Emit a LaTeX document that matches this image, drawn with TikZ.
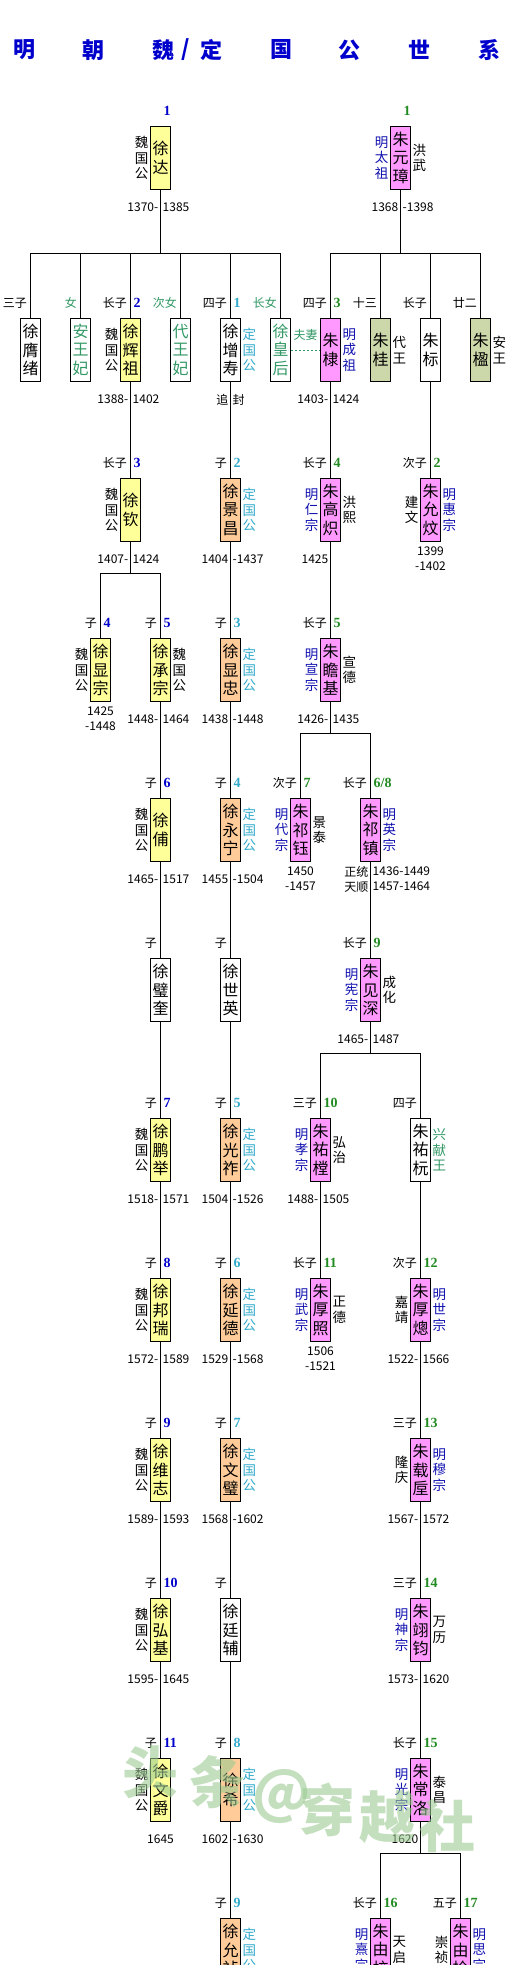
\documentclass[tikz,border=0pt]{standalone}
\usepackage{fontspec}
\setmainfont{Noto Sans CJK SC}
\newfontfamily\numfont{Liberation Serif}
\usetikzlibrary{positioning}
\definecolor{weiyellow}{HTML}{FFFF99}
\definecolor{dingpeach}{HTML}{FFCC99}
\definecolor{emppink}{HTML}{FF99FF}
\definecolor{wangkhaki}{HTML}{CCD8AA}
\definecolor{weiblue}{HTML}{0000CC}
\definecolor{mingblue}{HTML}{1010B0}
\definecolor{dingcyan}{HTML}{33AACC}
\definecolor{dinggreen}{HTML}{339966}
\definecolor{numgreen}{HTML}{228B22}
\definecolor{markgreen}{HTML}{9CCB92}
\tikzset{
  person/.style={draw, line width=0.8pt, anchor=north, minimum width=20pt, minimum height=63pt,
    inner sep=0pt, align=center, font=\fontsize{16}{18.5}\selectfont},
  wei/.style={person, fill=weiyellow},
  ding/.style={person, fill=dingpeach},
  emp/.style={person, fill=emppink},
  wang/.style={person, fill=wangkhaki},
  plainbox/.style={person, fill=white},
  side/.style={inner sep=1.5pt, align=center, font=\fontsize{13.5}{15.5}\selectfont},
  rel/.style={inner sep=0pt, font=\fontsize{12}{12}\selectfont},
  num/.style={inner sep=0pt, font=\numfont\bfseries\fontsize{14}{14}\selectfont},
  yr/.style={inner sep=0pt, align=center, font=\fontsize{12}{15}\selectfont},
  link/.style={line width=0.8pt},
  titlech/.style={inner sep=0pt, weiblue, font=\bfseries\fontsize{22}{22}\selectfont},
  wmark/.style={inner sep=0pt, markgreen, opacity=0.6, font=\bfseries\fontsize{56}{56}\selectfont},
}
\newcommand{\lside}[3][]{\node[side,left,#1] (#2-w) at (#2.west) {#3};}
\newcommand{\rside}[3][]{\node[side,right,#1] (#2-e) at (#2.east) {#3};}
\newcommand{\kin}[3][]{\node[rel,above left=9pt and 3.5pt of #2.north,#1] (#2-k) {#3};}
\newcommand{\gen}[3][]{\node[num,above right=10pt and 3pt of #2.north,#1] (#2-g) {#3};}
\newcommand{\yrs}[3]{\node[yr,below left=12.5pt and 2pt of #1.south] (#1-a) {#2};
  \node[yr,below right=12.5pt and 2pt of #1.south] (#1-b) {#3};}
\newcommand{\yrc}[3][4.5pt]{\node[yr,below=#1 of #2.south] (#2-c) {#3};}
\begin{document}
\begin{tikzpicture}[x=1pt,y=-1pt]
\useasboundingbox[fill=white] (0,0) rectangle (511,1965);
% title
\foreach \x/\c in {24/明,93/朝,163/魏,211/定,281/国,349/公,419/世,489/系}
  \node[titlech] (t\x) at (\x,50) {\c};
\node[titlech] (tslash) at (186,50) {/};

% generation 1
\node[wei] (xda) at (160.5,126) {徐\\达};
\node[emp] (zyz) at (400.5,126) {朱\\元\\璋};
\lside{xda}{魏\\国\\公}
\lside[mingblue]{zyz}{明\\太\\祖}
\rside{zyz}{洪\\武}
\gen[weiblue]{xda}{1}
\gen[numgreen]{zyz}{1}
\yrs{xda}{1370-}{1385}
\yrs{zyz}{1368}{-1398}

% generation 2
\node[plainbox] (xyx) at (30.5,318) {徐\\膺\\绪};
\node[plainbox,text=dinggreen] (awf) at (80.5,318) {安\\王\\妃};
\node[wei] (xhz) at (130.5,318) {徐\\辉\\祖};
\node[plainbox,text=dinggreen] (dwf) at (180.5,318) {代\\王\\妃};
\node[plainbox] (xzs) at (230.5,318) {徐\\增\\寿};
\node[plainbox,text=dinggreen] (xhh) at (280.5,318) {徐\\皇\\后};
\node[emp] (zd) at (330.5,318) {朱\\棣};
\node[wang] (zg) at (380.5,318) {朱\\桂};
\node[plainbox] (zb) at (430.5,318) {朱\\标};
\node[wang] (zy) at (480.5,318) {朱\\楹};
\lside{xhz}{魏\\国\\公}
\rside[dingcyan]{xzs}{定\\国\\公}
\rside[mingblue]{zd}{明\\成\\祖}
\rside{zg}{代\\王}
\rside{zy}{安\\王}
\kin{xyx}{三子}
\kin[dinggreen]{awf}{女}
\kin{xhz}{长子} \gen[weiblue]{xhz}{2}
\kin[dinggreen]{dwf}{次女}
\kin{xzs}{四子} \gen[dingcyan]{xzs}{1}
\kin[dinggreen]{xhh}{长女}
\kin{zd}{四子} \gen[numgreen]{zd}{3}
\kin{zg}{十三}
\kin{zb}{长子}
\kin{zy}{廿二}
\yrs{xhz}{1388-}{1402}
\yrs{xzs}{追}{封}
\yrs{zd}{1403-}{1424}
\draw[dinggreen,line width=0.8pt,dash pattern=on 2.5pt off 1.5pt] (xhh.east) --
  node[rel,dinggreen,above=9pt] (fuqi) {夫妻} (zd.west);

% generation 3
\node[wei] (xq) at (130.5,478) {徐\\钦};
\node[ding] (xjc) at (230.5,478) {徐\\景\\昌};
\node[emp] (zgc) at (330.5,478) {朱\\高\\炽};
\node[emp] (zyw) at (430.5,478) {朱\\允\\炆};
\lside{xq}{魏\\国\\公}
\rside[dingcyan]{xjc}{定\\国\\公}
\lside[mingblue]{zgc}{明\\仁\\宗} \rside{zgc}{洪\\熙}
\lside{zyw}{建\\文} \rside[mingblue]{zyw}{明\\惠\\宗}
\kin{xq}{长子} \gen[weiblue]{xq}{3}
\kin{xjc}{子} \gen[dingcyan]{xjc}{2}
\kin{zgc}{长子} \gen[numgreen]{zgc}{4}
\kin{zyw}{次子} \gen[numgreen]{zyw}{2}
\yrs{xq}{1407-}{1424}
\yrs{xjc}{1404}{-1437}
\yrs{zgc}{1425}{}
\yrc{zyw}{1399\\-1402}

% generation 4
\node[wei] (xxz) at (100.5,638) {徐\\显\\宗};
\node[wei] (xcz) at (160.5,638) {徐\\承\\宗};
\node[ding] (xxzh) at (230.5,638) {徐\\显\\忠};
\node[emp] (zzj) at (330.5,638) {朱\\瞻\\基};
\lside{xxz}{魏\\国\\公}
\rside{xcz}{魏\\国\\公}
\rside[dingcyan]{xxzh}{定\\国\\公}
\lside[mingblue]{zzj}{明\\宣\\宗} \rside{zzj}{宣\\德}
\kin{xxz}{子} \gen[weiblue]{xxz}{4}
\kin{xcz}{子} \gen[weiblue]{xcz}{5}
\kin{xxzh}{子} \gen[dingcyan]{xxzh}{3}
\kin{zzj}{长子} \gen[numgreen]{zzj}{5}
\yrc{xxz}{1425\\-1448}
\yrs{xcz}{1448-}{1464}
\yrs{xxzh}{1438}{-1448}
\yrs{zzj}{1426-}{1435}

% generation 5
\node[wei] (xf) at (160.5,798) {徐\\俌};
\node[ding] (xyn) at (230.5,798) {徐\\永\\宁};
\node[emp] (zqy) at (300.5,798) {朱\\祁\\钰};
\node[emp] (zqz) at (370.5,798) {朱\\祁\\镇};
\lside{xf}{魏\\国\\公}
\rside[dingcyan]{xyn}{定\\国\\公}
\lside[mingblue]{zqy}{明\\代\\宗} \rside{zqy}{景\\泰}
\rside[mingblue]{zqz}{明\\英\\宗}
\kin{xf}{子} \gen[weiblue]{xf}{6}
\kin{xyn}{子} \gen[dingcyan]{xyn}{4}
\kin{zqy}{次子} \gen[numgreen]{zqy}{7}
\kin{zqz}{长子} \gen[numgreen]{zqz}{6/8}
\yrs{xf}{1465-}{1517}
\yrs{xyn}{1455}{-1504}
\yrc{zqy}{1450\\-1457}
\node[yr,align=right,below left=4pt and 2pt of zqz.south] (zqz-a) {正统\\天顺};
\node[yr,align=left,below right=4.5pt and 2pt of zqz.south] (zqz-b) {1436-1449\\1457-1464};

% generation 6
\node[plainbox] (xbk) at (160.5,958) {徐\\璧\\奎};
\node[plainbox] (xsy) at (230.5,958) {徐\\世\\英};
\node[emp] (zjs) at (370.5,958) {朱\\见\\深};
\lside[mingblue]{zjs}{明\\宪\\宗} \rside{zjs}{成\\化}
\kin{xbk}{子}
\kin{xsy}{子}
\kin{zjs}{长子} \gen[numgreen]{zjs}{9}
\yrs{zjs}{1465-}{1487}

% generation 7
\node[wei] (xpj) at (160.5,1118) {徐\\鹏\\举};
\node[ding] (xgz) at (230.5,1118) {徐\\光\\祚};
\node[emp] (zyt) at (320.5,1118) {朱\\祐\\樘};
\node[plainbox] (zyh) at (420.5,1118) {朱\\祐\\杬};
\lside{xpj}{魏\\国\\公}
\rside[dingcyan]{xgz}{定\\国\\公}
\lside[mingblue]{zyt}{明\\孝\\宗} \rside{zyt}{弘\\治}
\rside[dinggreen]{zyh}{兴\\献\\王}
\kin{xpj}{子} \gen[weiblue]{xpj}{7}
\kin{xgz}{子} \gen[dingcyan]{xgz}{5}
\kin{zyt}{三子} \gen[numgreen]{zyt}{10}
\kin{zyh}{四子}
\yrs{xpj}{1518-}{1571}
\yrs{xgz}{1504}{-1526}
\yrs{zyt}{1488-}{1505}

% generation 8
\node[wei] (xbr) at (160.5,1278) {徐\\邦\\瑞};
\node[ding] (xyd) at (230.5,1278) {徐\\延\\德};
\node[emp] (zhz) at (320.5,1278) {朱\\厚\\照};
\node[emp] (zhc) at (420.5,1278) {朱\\厚\\熜};
\lside{xbr}{魏\\国\\公}
\rside[dingcyan]{xyd}{定\\国\\公}
\lside[mingblue]{zhz}{明\\武\\宗} \rside{zhz}{正\\德}
\lside{zhc}{嘉\\靖} \rside[mingblue]{zhc}{明\\世\\宗}
\kin{xbr}{子} \gen[weiblue]{xbr}{8}
\kin{xyd}{子} \gen[dingcyan]{xyd}{6}
\kin{zhz}{长子} \gen[numgreen]{zhz}{11}
\kin{zhc}{次子} \gen[numgreen]{zhc}{12}
\yrs{xbr}{1572-}{1589}
\yrs{xyd}{1529}{-1568}
\yrc{zhz}{1506\\-1521}
\yrs{zhc}{1522-}{1566}

% generation 9
\node[wei] (xwz) at (160.5,1438) {徐\\维\\志};
\node[ding] (xwb) at (230.5,1438) {徐\\文\\璧};
\node[emp] (zzh) at (420.5,1438) {朱\\载\\垕};
\lside{xwz}{魏\\国\\公}
\rside[dingcyan]{xwb}{定\\国\\公}
\lside{zzh}{隆\\庆} \rside[mingblue]{zzh}{明\\穆\\宗}
\kin{xwz}{子} \gen[weiblue]{xwz}{9}
\kin{xwb}{子} \gen[dingcyan]{xwb}{7}
\kin{zzh}{三子} \gen[numgreen]{zzh}{13}
\yrs{xwz}{1589-}{1593}
\yrs{xwb}{1568}{-1602}
\yrs{zzh}{1567-}{1572}

% generation 10
\node[wei] (xhj) at (160.5,1598) {徐\\弘\\基};
\node[plainbox] (xtf) at (230.5,1598) {徐\\廷\\辅};
\node[emp] (zyj) at (420.5,1598) {朱\\翊\\钧};
\lside{xhj}{魏\\国\\公}
\lside[mingblue]{zyj}{明\\神\\宗} \rside{zyj}{万\\历}
\kin{xhj}{子} \gen[weiblue]{xhj}{10}
\kin{xtf}{子}
\kin{zyj}{三子} \gen[numgreen]{zyj}{14}
\yrs{xhj}{1595-}{1645}
\yrs{zyj}{1573-}{1620}

% generation 11
\node[wei] (xwj) at (160.5,1758) {徐\\文\\爵};
\node[ding] (xx) at (230.5,1758) {徐\\希};
\node[emp] (zcl) at (420.5,1758) {朱\\常\\洛};
\lside{xwj}{魏\\国\\公}
\rside[dingcyan]{xx}{定\\国\\公}
\lside[mingblue]{zcl}{明\\光\\宗} \rside{zcl}{泰\\昌}
\kin{xwj}{子} \gen[weiblue]{xwj}{11}
\kin{xx}{子} \gen[dingcyan]{xx}{8}
\kin{zcl}{长子} \gen[numgreen]{zcl}{15}
\yrc[12.5pt]{xwj}{1645}
\yrs{xx}{1602}{-1630}
\yrs{zcl}{1620}{}

% generation 12
\node[ding] (xyz) at (230.5,1918) {徐\\允\\祯};
\node[emp] (zyx) at (380.5,1918) {朱\\由\\校};
\node[emp] (zyj2) at (460.5,1918) {朱\\由\\检};
\rside[dingcyan]{xyz}{定\\国\\公}
\lside[mingblue]{zyx}{明\\熹\\宗} \rside{zyx}{天\\启}
\lside{zyj2}{崇\\祯} \rside[mingblue]{zyj2}{明\\思\\宗}
\kin{xyz}{子} \gen[dingcyan]{xyz}{9}
\kin{zyx}{长子} \gen[numgreen]{zyx}{16}
\kin{zyj2}{五子} \gen[numgreen]{zyj2}{17}

% lines of descent
\foreach \c in {xyx,awf,xhz,dwf,xzs,xhh} \draw[link] (xda.south) -- ++(0,64) -| (\c.north);
\foreach \c in {zd,zg,zb,zy} \draw[link] (zyz.south) -- ++(0,64) -| (\c.north);
\foreach \c in {xxz,xcz} \draw[link] (xq.south) -- ++(0,32) -| (\c.north);
\foreach \c in {zqy,zqz} \draw[link] (zzj.south) -- ++(0,32) -| (\c.north);
\foreach \c in {zyt,zyh} \draw[link] (zjs.south) -- ++(0,32) -| (\c.north);
\foreach \c in {zyx,zyj2} \draw[link] (zcl.south) -- ++(0,32) -| (\c.north);
\foreach \a/\b in {xhz/xq,xzs/xjc,zd/zgc,zb/zyw,xjc/xxzh,zgc/zzj,xcz/xf,xxzh/xyn,
    xf/xbk,xyn/xsy,zqz/zjs,xbk/xpj,xsy/xgz,xpj/xbr,xgz/xyd,zyt/zhz,zyh/zhc,
    xbr/xwz,xyd/xwb,zhc/zzh,xwz/xhj,xwb/xtf,zzh/zyj,xhj/xwj,xtf/xx,zyj/zcl,xx/xyz}
  \draw[link] (\a.south) -- (\b.north);

% watermark
\foreach \x/\y/\c [count=\i] in {150/1772/头,217/1782/条,282/1797/@,327/1810/穿,387/1817/越,447/1826/社}
  \node[wmark] (wm\i) at (\x,\y) {\c};
\end{tikzpicture}
\end{document}
